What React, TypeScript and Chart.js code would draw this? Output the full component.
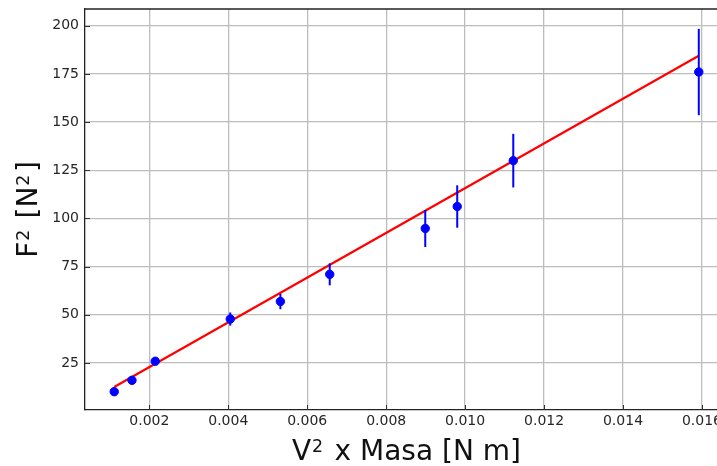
import React, { useEffect, useRef } from 'react';
import { Chart, registerables } from 'chart.js';

Chart.register(...registerables);

// ---- data ----
const massV2 = [0.00111, 0.00156, 0.00215, 0.00405, 0.00532, 0.00657, 0.00899, 0.0098, 0.01122, 0.01592];
const force2 = [10.1, 16.0, 25.9, 47.8, 56.9, 71.0, 94.8, 106.2, 130.0, 176.0];
const force2Err = [0.9, 1.3, 1.8, 3.4, 4.0, 5.7, 9.6, 11.0, 13.9, 22.4];
const fitX = [0.00111, 0.01592];
const fitY = [12.5, 184.4];
const xTicks = [0.002, 0.004, 0.006, 0.008, 0.01, 0.012, 0.014, 0.016];
const yTicks = [25, 50, 75, 100, 125, 150, 175, 200];
const xRange = [0.00037, 0.01666];
const yRange = [0.6, 208.7];
// axis titles as [text, isSuperscript] parts
const xTitleParts: [string, boolean][] = [['V', false], ['2', true], [' x Masa [N m]', false]];
const yTitleParts: [string, boolean][] = [['F', false], ['2', true], [' [N', false], ['2', true], [']', false]];

const FONT = "'DejaVu Sans', 'Liberation Sans', sans-serif";

function drawRich(ctx: CanvasRenderingContext2D, parts: [string, boolean][], size: number) {
  const supSize = size * 0.62;
  const widths = parts.map(([t, sup]) => {
    ctx.font = `${sup ? supSize : size}px ${FONT}`;
    return ctx.measureText(t).width + (sup ? size * 0.12 : 0);
  });
  const total = widths.reduce((a, b) => a + b, 0);
  let x = -total / 2;
  parts.forEach(([t, sup], i) => {
    ctx.font = `${sup ? supSize : size}px ${FONT}`;
    ctx.fillText(t, x + (sup ? size * 0.03 : 0), sup ? -size * 0.3 : 0);
    x += widths[i];
  });
}

const errorBarPlugin = {
  id: 'errorBars',
  beforeDatasetDraw(chart: any, args: any) {
    if (args.index !== 0) return;
    const { ctx, scales } = chart;
    const xs = scales.x;
    const ys = scales.y;
    ctx.save();
    ctx.strokeStyle = '#0000ff';
    ctx.lineWidth = 2;
    massV2.forEach((xv, i) => {
      const px = xs.getPixelForValue(xv);
      const y1 = ys.getPixelForValue(force2[i] - force2Err[i]);
      const y2 = ys.getPixelForValue(force2[i] + force2Err[i]);
      ctx.beginPath();
      ctx.moveTo(px, y1);
      ctx.lineTo(px, y2);
      ctx.stroke();
    });
    ctx.restore();
  },
};

const frameTicksPlugin = {
  id: 'frameTicks',
  afterDraw(chart: any) {
    const { ctx, chartArea, scales } = chart;
    const { left, right, top, bottom } = chartArea;
    ctx.save();
    ctx.strokeStyle = '#222';
    ctx.lineWidth = 1.3;
    ctx.beginPath();
    ctx.moveTo(left, top);
    ctx.lineTo(right, top);
    ctx.stroke();
    ctx.lineWidth = 1;
    ctx.strokeStyle = '#333';
    xTicks.forEach((v) => {
      const px = Math.round(scales.x.getPixelForValue(v)) + 0.5;
      ctx.beginPath();
      ctx.moveTo(px, bottom);
      ctx.lineTo(px, bottom - 5);
      ctx.stroke();
    });
    yTicks.forEach((v) => {
      const py = Math.round(scales.y.getPixelForValue(v)) + 0.5;
      ctx.beginPath();
      ctx.moveTo(left, py);
      ctx.lineTo(left + 5, py);
      ctx.stroke();
    });

    // axis titles
    ctx.fillStyle = '#111';
    ctx.textBaseline = 'alphabetic';
    ctx.textAlign = 'left';
    ctx.save();
    ctx.translate((left + right) / 2, 460);
    drawRich(ctx, xTitleParts, 28);
    ctx.restore();
    ctx.save();
    ctx.translate(37, (top + bottom) / 2);
    ctx.rotate(-Math.PI / 2);
    drawRich(ctx, yTitleParts, 28);
    ctx.restore();
    ctx.restore();
  },
};

export default function App() {
  const ref = useRef<HTMLCanvasElement | null>(null);

  useEffect(() => {
    if (!ref.current) return;
    const chart = new Chart(ref.current, {
      type: 'scatter',
      data: {
        datasets: [
          {
            type: 'scatter',
            data: massV2.map((x, i) => ({ x, y: force2[i] })),
            backgroundColor: '#0000ff',
            borderColor: '#0000ff',
            pointRadius: 4.2,
            pointBorderWidth: 1,
          } as any,
          {
            type: 'line',
            data: fitX.map((x, i) => ({ x, y: fitY[i] })),
            borderColor: '#ff0000',
            borderWidth: 2.2,
            pointRadius: 0,
            fill: false,
          } as any,
        ],
      },
      options: {
        animation: false,
        responsive: false,
        devicePixelRatio: 1,
        layout: { padding: { top: 9, right: 32, left: 0, bottom: 0 } },
        plugins: { legend: { display: false }, tooltip: { enabled: false } },
        scales: {
          x: {
            type: 'linear',
            min: xRange[0],
            max: xRange[1],
            afterBuildTicks: (s: any) => {
              s.ticks = xTicks.map((value) => ({ value }));
            },
            afterFit: (s: any) => {
              s.height = 56;
              s.paddingLeft = 0;
              s.paddingRight = 0;
            },
            grid: { color: '#bdbdbd', lineWidth: 1.3, drawTicks: false },
            border: { display: true, color: '#222', width: 1.3 },
            ticks: {
              padding: 3,
              color: '#262626',
              font: { family: FONT, size: 14 },
              callback: (v: any) => Number(v).toFixed(3),
              maxRotation: 0,
              autoSkip: false,
            },
          },
          y: {
            type: 'linear',
            min: yRange[0],
            max: yRange[1],
            afterBuildTicks: (s: any) => {
              s.ticks = yTicks.map((value) => ({ value }));
            },
            afterFit: (s: any) => {
              s.width = 85;
              s.paddingTop = 0;
              s.paddingBottom = 0;
            },
            grid: { color: '#bdbdbd', lineWidth: 1.3, drawTicks: false },
            border: { display: true, color: '#222', width: 1.3 },
            ticks: {
              padding: 6,
              color: '#262626',
              font: { family: FONT, size: 14 },
              autoSkip: false,
            },
          },
        },
      },
      plugins: [errorBarPlugin, frameTicksPlugin],
    });
    return () => chart.destroy();
  }, []);

  return (
    <div
      style={{
        position: 'fixed',
        left: 0,
        top: 0,
        width: 717,
        height: 466,
        overflow: 'hidden',
        background: '#fff',
      }}
    >
      <canvas ref={ref} width={760} height={466} style={{ display: 'block', width: 760, height: 466 }} />
    </div>
  );
}
